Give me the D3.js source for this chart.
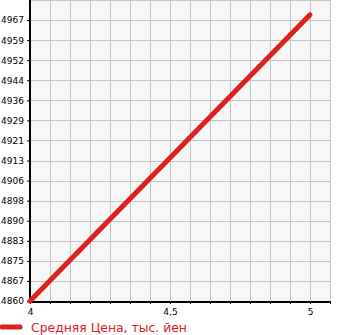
<!DOCTYPE html>
<html>
<head>
<meta charset="utf-8">
<script src="https://cdn.jsdelivr.net/npm/d3@7"></script>
<style>
  body { margin: 0; background: #fff; }
  text { font-family: "DejaVu Sans", sans-serif; }
</style>
</head>
<body>
<script>

var xValues = [4, 5];
var priceValues = [4860, 4969];
var yTickLabels = ["4860", "4867", "4875", "4883", "4890", "4898", "4906", "4913",
                   "4921", "4929", "4936", "4944", "4952", "4959", "4967"];
var xTickLabels = ["4", "4,5", "5"];
var legendLabel = "Средняя Цена, тыс. йен";

var width = 345, height = 335;
var margin = { top: 0, right: 15, bottom: 34, left: 30 };
var red = "#dd2020";

var svg = d3.select("body")
  .append("svg")
  .attr("width", width)
  .attr("height", height);

// 20px per grid cell, 14 cells per x unit
var yStep = (4967 - 4860) / 14;
var xScale = d3.scaleLinear()
  .domain([4, 4 + 15 / 14])
  .range([margin.left, width - margin.right]);
var yScale = d3.scaleLinear()
  .domain([4860, 4860 + 15 * yStep])
  .range([height - margin.bottom, margin.top]);

svg.append("rect")
  .attr("x", margin.left)
  .attr("y", margin.top)
  .attr("width", width - margin.right - margin.left)
  .attr("height", height - margin.bottom - margin.top)
  .attr("fill", "#f7f7f7");

var xGrid = d3.range(0, 16).map(function(i) { return 4 + i / 14; });
var yGrid = d3.range(0, 16).map(function(i) { return 4860 + i * yStep; });

svg.append("g")
  .selectAll("line")
  .data(xGrid.slice(1))
  .enter().append("line")
  .attr("x1", function(d) { return Math.round(xScale(d)) + 0.5; })
  .attr("x2", function(d) { return Math.round(xScale(d)) + 0.5; })
  .attr("y1", margin.top)
  .attr("y2", height - margin.bottom)
  .attr("stroke", "#c4c4c4");

svg.append("g")
  .selectAll("line")
  .data(yGrid.slice(1))
  .enter().append("line")
  .attr("y1", function(d) { return Math.round(yScale(d)) + 0.5; })
  .attr("y2", function(d) { return Math.round(yScale(d)) + 0.5; })
  .attr("x1", margin.left)
  .attr("x2", width - margin.right)
  .attr("stroke", "#c4c4c4");

var yAxis = svg.append("g")
  .attr("transform", "translate(" + margin.left + ",0)")
  .call(d3.axisLeft(yScale)
    .tickValues(yGrid.slice(0, 15))
    .tickSize(3)
    .tickPadding(3)
    .tickFormat(function(d, i) { return yTickLabels[i]; }));

var xAxis = svg.append("g")
  .attr("transform", "translate(0," + (height - margin.bottom) + ")")
  .call(d3.axisBottom(xScale)
    .tickValues(xGrid)
    .tickSize(3)
    .tickPadding(5)
    .tickFormat(function(d, i) {
      if (i === 0) return xTickLabels[0];
      if (i === 7) return xTickLabels[1];
      if (i === 14) return xTickLabels[2];
      return "";
    }));

[xAxis, yAxis].forEach(function(ax) {
  ax.select(".domain").attr("stroke", "#000").attr("stroke-width", 2);
  ax.selectAll(".tick line").attr("stroke", "#000");
  ax.selectAll(".tick text").attr("fill", "#000").style("font-size", "9px");
});
yAxis.select(".domain").attr("d", "M0," + margin.top + "V" + (height - margin.bottom + 1));
xAxis.select(".domain").attr("d", "M" + margin.left + ",1H" + (width - margin.right));

var line = d3.line()
  .x(function(d, i) { return xScale(xValues[i]); })
  .y(function(d) { return yScale(d); });

svg.append("path")
  .datum(priceValues)
  .attr("d", line)
  .attr("fill", "none")
  .attr("stroke", red)
  .attr("stroke-width", 5)
  .attr("stroke-linecap", "round");

// legend
svg.append("line")
  .attr("x1", 2).attr("x2", 20)
  .attr("y1", 327).attr("y2", 327)
  .attr("stroke", red)
  .attr("stroke-width", 5)
  .attr("stroke-linecap", "round");

svg.append("text")
  .attr("x", 31)
  .attr("y", 332)
  .attr("fill", red)
  .style("font-size", "12.4px")
  .text(legendLabel);

</script>
</body>
</html>
